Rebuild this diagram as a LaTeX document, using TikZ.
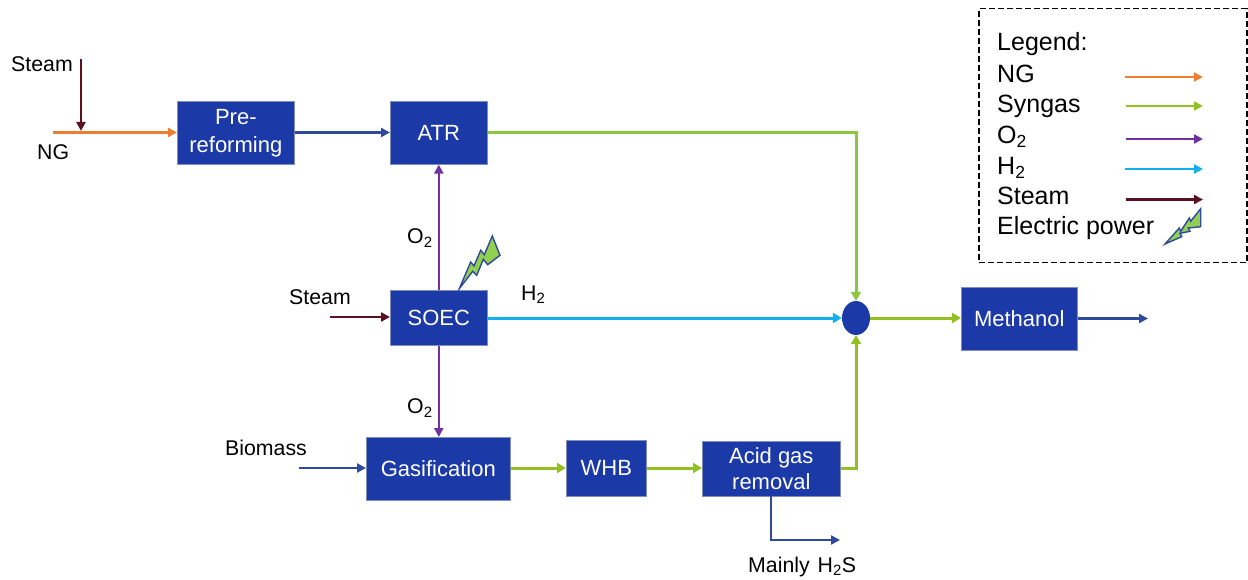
\documentclass[tikz,border=0pt]{standalone}
\usepackage{fontspec}
\setmainfont{Liberation Sans}
\usetikzlibrary{arrows.meta,calc,shapes.geometric}
\definecolor{boxblue}{HTML}{1C39A8}
\definecolor{boxedge}{HTML}{7F8FB8}
\definecolor{lineblue}{HTML}{2F4A9C}
\definecolor{ngc}{HTML}{ED7D31}
\definecolor{syn}{HTML}{92C020}
\definecolor{syntop}{HTML}{8CC63F}
\definecolor{oxy}{HTML}{7030A0}
\definecolor{hyd}{HTML}{10B0EA}
\definecolor{stm}{HTML}{5A1020}
\definecolor{bolt}{HTML}{92D050}
\tikzset{
  x=1pt,y=-1pt,
  proc/.style={fill=boxblue,draw=boxedge,line width=0.6pt,text=white,font=\fontsize{22}{26}\selectfont,align=center,inner sep=0pt,anchor=north west},
  lab/.style={font=\fontsize{21.3}{25}\selectfont,inner sep=0pt,text=black},
  flow/.style={line width=3pt,-{Triangle[length=9pt,width=10pt]}},
  flowthin/.style={line width=2.6pt,-{Triangle[length=9pt,width=9pt]}},
  boltshape/.style={fill=bolt,draw=lineblue,line width=1.4pt,line join=miter}
}
\newcommand{\bx}[6]{\node[proc,minimum width=#4 pt,minimum height=#5 pt] (#1) at (#2,#3) {#6};}
\begin{document}
\begin{tikzpicture}
\useasboundingbox (0,0) rectangle (1248,580);
% process boxes
\bx{pre}{177}{101}{117}{63}{\raisebox{-1.5pt}{Pre-}\\[2pt]\raisebox{-1.5pt}{reforming}}
\bx{atr}{390}{101}{97}{63}{ATR}
\bx{soec}{390}{290}{97}{55}{SOEC}
\bx{gas}{366}{437}{144}{63}{Gasification}
\bx{whb}{566}{440}{80}{56}{WHB}
\bx{agr}{702}{441}{138}{55}{Acid gas\\removal}
\bx{meoh}{961}{287}{116}{63}{Methanol}
\node[ellipse,fill=boxblue,minimum width=28pt,minimum height=34pt,inner sep=0pt] (mix) at (856,318) {};
% free ends
\coordinate (steamtop) at (81,59);
\coordinate (ngstart) at (53,132.5);
\coordinate (ngmid) at (81,131);
\coordinate (steamsoec) at (330,317);
\coordinate (biomass) at (299,468);
\coordinate (meohout) at (1148,318.5);
\coordinate (h2sout) at (840,540);
\coordinate (h2sstart) at (771,496);
% connectors
\draw[flowthin,ngc] (ngstart) -- (pre.west |- ngstart);
\draw[flowthin,stm] (steamtop) -- (ngmid);
\draw[flowthin,lineblue] (pre.east |- 0,132.5) -- (atr.west |- 0,132.5);
\draw[flow,syntop] (atr.east |- 0,132.5) -| (mix.north);
\draw[flowthin,oxy] (soec.north) -- (atr.south);
\draw[flowthin,oxy] (soec.south) -- (soec.south |- gas.north);
\draw[flowthin,stm] (steamsoec) -- (soec.west |- steamsoec);
\draw[flow,hyd] (soec.east |- mix.west) -- (mix.west);
\draw[flowthin,lineblue] (biomass) -- (gas.west |- biomass);
\draw[flow,syn] (gas.east |- 0,468) -- (whb.west |- 0,468);
\draw[flow,syn] (whb.east |- 0,468) -- (agr.west |- 0,468);
\draw[flow,syn] (agr.east |- 0,468) -| (mix.south);
\draw[flow,syn] (mix.east) -- (meoh.west |- mix.east);
\draw[flowthin,lineblue] (meoh.east |- meohout) -- (meohout);
\draw[flowthin,lineblue] (h2sstart) |- (h2sout);
% lightning bolts
\draw[boltshape] (459.3,288.7) -- (470.7,262) -- (474,266) -- (480.7,250.3) -- (484.3,254.7) -- (492.3,236) -- (500,255.3) -- (487.7,264.7) -- (483.3,259.3) -- (476.7,275.3) -- (472.7,271.3) -- cycle;
% labels
\node[lab,anchor=west] (t1) at (11,64.5) {Steam};
\node[lab,anchor=west] (t2) at (37,152) {NG};
\node[lab,anchor=west] (t3) at (407,238) {O\textsubscript{2}};
\node[lab,anchor=west] (t4) at (289,297.5) {Steam};
\node[lab,anchor=west] (t5) at (521,295) {H\textsubscript{2}};
\node[lab,anchor=west] (t6) at (407,408) {O\textsubscript{2}};
\node[lab,anchor=west] (t7) at (225,447.5) {Biomass};
\node[lab,anchor=west] (t8) at (748,566.5) {Mainly\hspace{8pt}H\textsubscript{2}S};
% legend
\node[draw=black,line width=1.5pt,dash pattern=on 6pt off 3pt,minimum width=268pt,minimum height=254pt,inner sep=0pt,anchor=north west] (legend) at (978,8) {};
\begin{scope}[every node/.style={font=\fontsize{25}{29}\selectfont,inner sep=0pt,anchor=west}]
\node (l0) at (997,44.5) {Legend:};
\node (l1) at (997,74) {NG};
\node (l2) at (997,106.5) {Syngas};
\node (l3) at (997,137) {O\textsubscript{2}};
\node (l4) at (997,168) {H\textsubscript{2}};
\node (l5) at (997,196) {Steam};
\node (l6) at (997,228.5) {Electric power};
\end{scope}
\coordinate (a1) at (1125,77); \coordinate (b1) at (1203,77);
\coordinate (a2) at (1126,106); \coordinate (b2) at (1203,106);
\coordinate (a3) at (1126,139); \coordinate (b3) at (1203,139);
\coordinate (a4) at (1125,169); \coordinate (b4) at (1203,169);
\coordinate (a5) at (1126,199.5); \coordinate (b5) at (1203,199.5);
\draw[flowthin,ngc] (a1) -- (b1);
\draw[flowthin,syn] (a2) -- (b2);
\draw[flowthin,oxy] (a3) -- (b3);
\draw[flowthin,hyd] (a4) -- (b4);
\draw[flowthin,stm] (a5) -- (b5);
\draw[boltshape] (1165,244) -- (1179.3,228) -- (1180.7,231.3) -- (1189.3,218) -- (1190.7,221.3) -- (1200.7,208.7) -- (1200.7,226.7) -- (1188.3,228) -- (1190,231.3) -- (1180,233.3) -- (1181.7,236.7) -- cycle;
\end{tikzpicture}
\end{document}
